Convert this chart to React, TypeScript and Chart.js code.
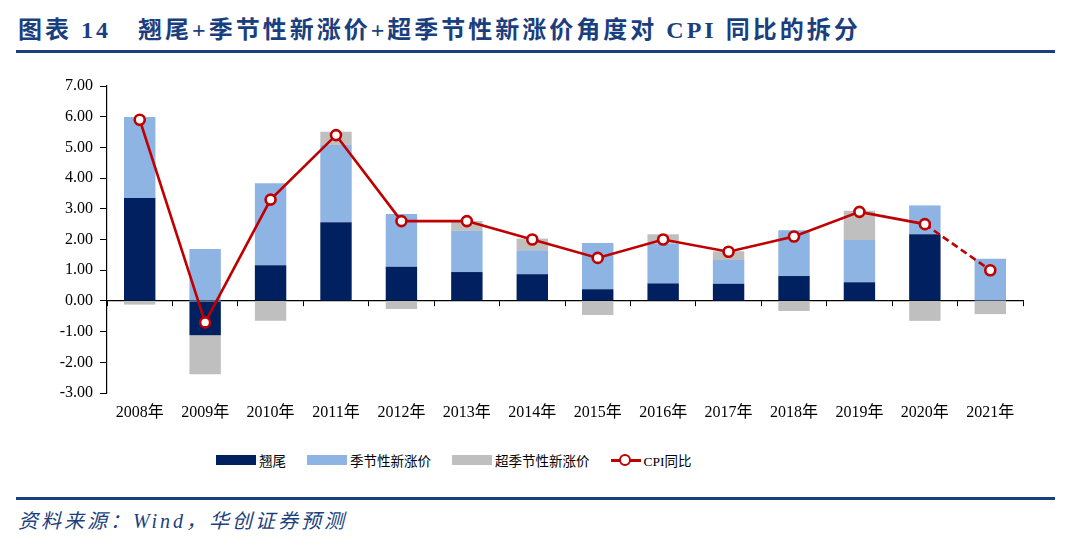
import React, { useEffect, useRef } from "react";
import { Chart, registerables } from "chart.js";

Chart.register(...registerables);

const categories = ["2008年", "2009年", "2010年", "2011年", "2012年", "2013年", "2014年", "2015年", "2016年", "2017年", "2018年", "2019年", "2020年", "2021年"];
const tailValues = [3.35, -1.12, 1.16, 2.56, 1.11, 0.94, 0.87, 0.38, 0.57, 0.56, 0.81, 0.61, 2.17, 0];
const seasonalValues = [2.64, 1.69, 2.67, 2.52, 1.72, 1.34, 0.78, 1.51, 1.30, 0.77, 1.49, 1.37, 0.94, 1.37];
const extraSeasonalValues = [-0.12, -1.27, -0.65, 0.43, -0.26, 0.32, 0.38, -0.46, 0.30, 0.29, -0.33, 0.96, -0.65, -0.43];
const cpiValues = [5.9, -0.7, 3.3, 5.4, 2.6, 2.6, 2.0, 1.4, 2.0, 1.6, 2.1, 2.9, 2.5, 1.0];
const yMin = -3;
const yMax = 7;
const yStep = 1;

const seriesNames = ["翘尾", "季节性新涨价", "超季节性新涨价", "CPI同比"];
const seriesColors = ["#002060", "#8EB4E3", "#BFBFBF", "#C00000"];

const titleText = "图表 14\u00a0\u00a0\u00a0翘尾+季节性新涨价+超季节性新涨价角度对 CPI 同比的拆分";
const sourceText = "资料来源：Wind，华创证券预测";

const serif = '"Liberation Serif", "DejaVu Serif", "Noto Sans CJK SC", serif';
const blue = "#1B3F7E";

export default function App() {
  const ref = useRef<HTMLCanvasElement>(null);
  useEffect(() => {
    document.body.style.margin = "0";
    const chart = new Chart(ref.current as HTMLCanvasElement, {
      type: "bar",
      data: {
        labels: categories,
        datasets: [
          { label: seriesNames[0], data: tailValues, backgroundColor: seriesColors[0], order: 1, stack: "s" } as any,
          { label: seriesNames[1], data: seasonalValues, backgroundColor: seriesColors[1], order: 1, stack: "s" } as any,
          { label: seriesNames[2], data: extraSeasonalValues, backgroundColor: seriesColors[2], order: 1, stack: "s" } as any,
          {
            type: "line",
            label: seriesNames[3],
            data: cpiValues,
            borderColor: seriesColors[3],
            backgroundColor: "#FFFFFF",
            borderWidth: 2.6,
            pointRadius: 5,
            pointBorderWidth: 2.6,
            pointBackgroundColor: "#FFFFFF",
            pointBorderColor: seriesColors[3],
            order: 0,
            stack: "cpi",
            segment: {
              borderDash: (ctx: any) => (ctx.p1DataIndex === cpiValues.length - 1 ? [7, 4] : undefined),
            },
          } as any,
        ],
      },
      options: {
        animation: false,
        responsive: true,
        maintainAspectRatio: false,
        layout: { padding: { top: 26, right: 57, left: 0, bottom: 0 } },
        datasets: { bar: { categoryPercentage: 1, barPercentage: 0.48 } } as any,
        plugins: { legend: { display: false }, tooltip: { enabled: false } },
        scales: {
          x: {
            stacked: true,
            grid: { display: false, drawTicks: false },
            border: { display: false },
            ticks: { color: "#000", font: { family: serif, size: 16 }, padding: 10, maxRotation: 0, autoSkip: false },
            afterFit: (s: any) => {
              s.height = 47;
            },
          },
          x2: {
            type: "category",
            axis: "x",
            position: { y: 0 },
            offset: true,
            z: 1,
            grid: { display: true, drawOnChartArea: false, offset: true, tickLength: 5, color: "#000", lineWidth: 1 },
            border: { display: true, color: "#000", width: 1.2 },
            ticks: { display: false },
          } as any,
          y: {
            stacked: true,
            min: yMin,
            max: yMax,
            ticks: {
              stepSize: yStep,
              color: "#000",
              font: { family: serif, size: 16 },
              padding: 7,
              callback: (v: any) => Number(v).toFixed(2),
            },
            grid: { drawOnChartArea: false, tickLength: 7, color: "#000" },
            border: { display: true, color: "#000", width: 1.2 },
            afterFit: (s: any) => {
              s.width = 107;
            },
          },
        },
      },
    });
    return () => chart.destroy();
  }, []);

  const legendItem = (i: number) => {
    const isLine = i === 3;
    return (
      <div key={i} style={{ display: "flex", alignItems: "center", marginRight: i < 3 ? 21 : 0 }}>
        {isLine ? (
          <div style={{ position: "relative", width: 30, height: 13, marginRight: 3 }}>
            <div style={{ position: "absolute", left: 0, top: 5, width: 30, height: 3, background: seriesColors[3] }} />
            <div
              style={{
                position: "absolute",
                left: 8,
                top: 0,
                width: 8,
                height: 8,
                borderRadius: "50%",
                border: `2.5px solid ${seriesColors[3]}`,
                background: "#fff",
              }}
            />
          </div>
        ) : (
          <div style={{ width: 40, height: 10, background: seriesColors[i], marginRight: 3 }} />
        )}
        <span style={{ fontFamily: serif, fontSize: 13.5, color: "#000" }}>{seriesNames[i]}</span>
      </div>
    );
  };

  return (
    <div style={{ position: "fixed", left: 0, top: 0, width: 1080, height: 549, background: "#fff", overflow: "hidden" }}>
      <div
        style={{
          position: "absolute",
          left: 18,
          top: 16,
          fontFamily: serif,
          fontWeight: "bold",
          fontSize: 24,
          letterSpacing: 3,
          color: blue,
          whiteSpace: "nowrap",
          lineHeight: "28px",
        }}
      >
        {titleText}
      </div>
      <div style={{ position: "absolute", left: 16, top: 50, width: 1039, height: 3, background: blue }} />
      <div style={{ position: "absolute", left: 0, top: 60, width: 1080, height: 380 }}>
        <canvas ref={ref} />
      </div>
      <div style={{ position: "absolute", left: 216, top: 450, height: 20, display: "flex", alignItems: "center" }}>
        {[0, 1, 2, 3].map(legendItem)}
      </div>
      <div style={{ position: "absolute", left: 16, top: 497, width: 1039, height: 3, background: blue }} />
      <div
        style={{
          position: "absolute",
          left: 18,
          top: 507,
          fontFamily: serif,
          fontStyle: "italic",
          fontSize: 20,
          letterSpacing: 3,
          color: blue,
          whiteSpace: "nowrap",
          lineHeight: "28px",
        }}
      >
        {sourceText}
      </div>
    </div>
  );
}
